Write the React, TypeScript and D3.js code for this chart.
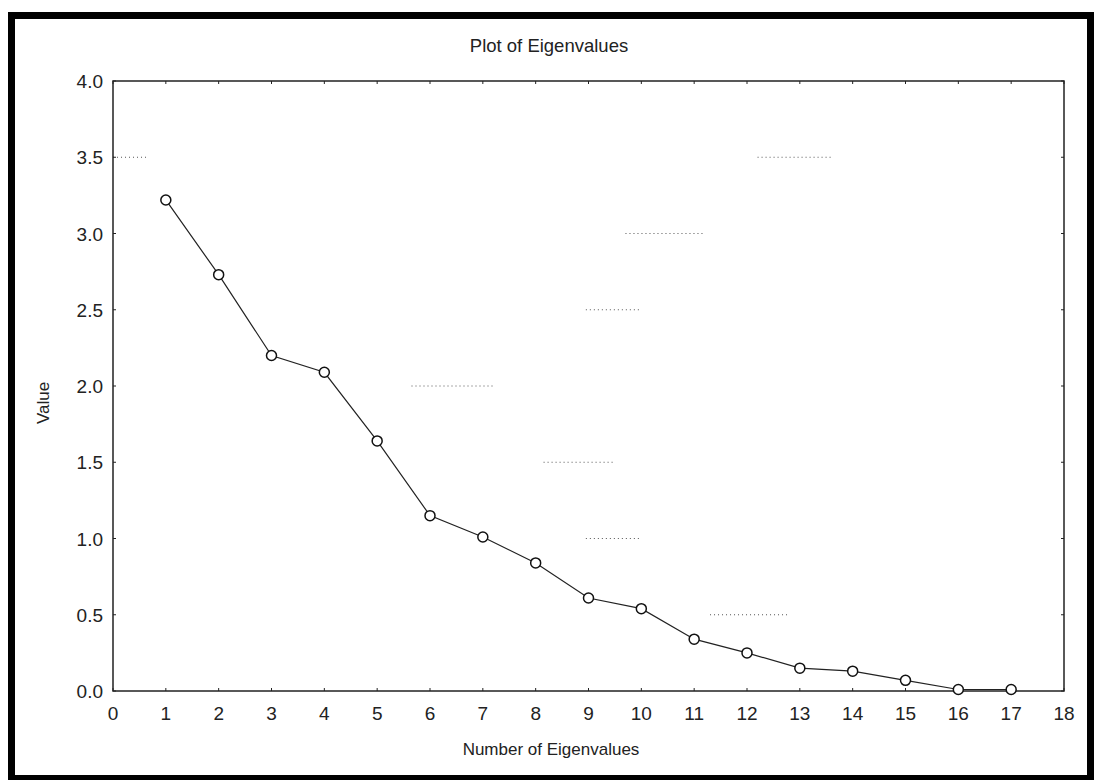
import React from "react";
import * as d3 from "d3";

// eigenvalue number and value
const eigenIndex = [1, 2, 3, 4, 5, 6, 7, 8, 9, 10, 11, 12, 13, 14, 15, 16, 17];
const eigenValues = [3.22, 2.73, 2.2, 2.09, 1.64, 1.15, 1.01, 0.84, 0.61, 0.54, 0.34, 0.25, 0.15, 0.13, 0.07, 0.01, 0.01];

const xTicks = d3.range(0, 19);
const yTicks = [0, 0.5, 1, 1.5, 2, 2.5, 3, 3.5, 4];

// leftover bits of the dotted grid lines: [value, fromX, toX]
const gridBits = [
  [3.5, 0, 0.65],
  [3.5, 12.2, 13.6],
  [3.0, 9.7, 11.2],
  [2.5, 8.95, 10.0],
  [2.0, 5.65, 7.2],
  [1.5, 8.15, 9.5],
  [1.0, 8.95, 10.0],
  [0.5, 11.3, 12.8],
];

const W = 1094;
const H = 780;
const plot = { left: 113, right: 1064, top: 81, bottom: 691 };
const font = "'Liberation Sans', Arial, sans-serif";

export default function App() {
  const x = d3.scaleLinear().domain([0, 18]).range([plot.left, plot.right]);
  const y = d3.scaleLinear().domain([0, 4]).range([plot.bottom, plot.top]);

  const pts = eigenIndex.map((n, i) => [n, eigenValues[i]] as [number, number]);
  const line = d3.line<[number, number]>().x(d => x(d[0])).y(d => y(d[1]));

  const tk = 3;

  return (
    <svg width={W} height={H} style={{ position: "absolute", left: 0, top: 0, background: "#fff" }}>
      {/* outer frame */}
      <rect x={11.5} y={15.5} width={1079} height={763} fill="none" stroke="#000" strokeWidth={7} />

      <text x={549} y={52} textAnchor="middle" fontFamily={font} fontSize={18.5} fill="#222">
        Plot of Eigenvalues
      </text>

      {gridBits.map(([v, a, b], i) => (
        <line key={"g" + i} x1={x(a)} x2={x(b)} y1={y(v)} y2={y(v)}
          stroke="#555" strokeWidth={1} strokeDasharray="1 3" />
      ))}

      {/* ticks on all four sides, pointing in */}
      {xTicks.map(t => (
        <g key={"xt" + t}>
          <line x1={x(t)} x2={x(t)} y1={plot.bottom} y2={plot.bottom - tk} stroke="#222" />
          <line x1={x(t)} x2={x(t)} y1={plot.top} y2={plot.top + tk} stroke="#222" />
          <text x={x(t)} y={720} textAnchor="middle" fontFamily={font} fontSize={19} fill="#222">{t}</text>
        </g>
      ))}
      {yTicks.map(t => (
        <g key={"yt" + t}>
          <line x1={plot.left} x2={plot.left + tk} y1={y(t)} y2={y(t)} stroke="#222" />
          <line x1={plot.right} x2={plot.right - tk} y1={y(t)} y2={y(t)} stroke="#222" />
          <text x={103} y={y(t) + 7} textAnchor="end" fontFamily={font} fontSize={19} fill="#222">{t.toFixed(1)}</text>
        </g>
      ))}

      <rect x={plot.left} y={plot.top} width={plot.right - plot.left} height={plot.bottom - plot.top}
        fill="none" stroke="#222" strokeWidth={1.5} />

      <path d={line(pts) || ""} fill="none" stroke="#222" strokeWidth={1.2} />
      {pts.map((p, i) => (
        <circle key={"p" + i} cx={x(p[0])} cy={y(p[1])} r={5} fill="#fff" stroke="#111" strokeWidth={1.5} />
      ))}

      <text x={551} y={755} textAnchor="middle" fontFamily={font} fontSize={17} fill="#222">
        Number of Eigenvalues
      </text>
      <text transform={`translate(49,403) rotate(-90)`} textAnchor="middle" fontFamily={font} fontSize={17} fill="#222">
        Value
      </text>
    </svg>
  );
}
